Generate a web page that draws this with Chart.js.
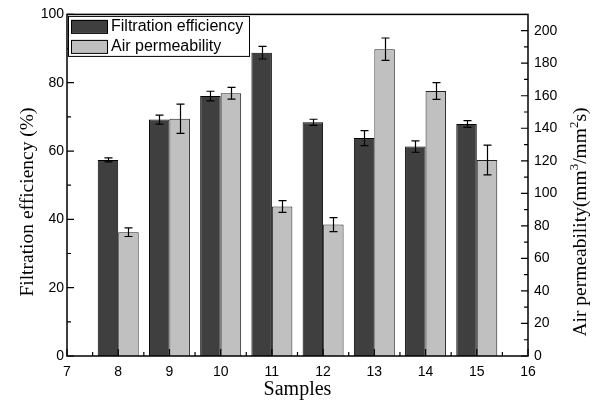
<!DOCTYPE html>
<html>
<head>
<meta charset="utf-8">
<script src="https://cdn.jsdelivr.net/npm/chart.js@4.4.1/dist/chart.umd.min.js"></script>
<style>
    html, body { margin: 0; padding: 0; background: #fff; }
    #chart { display: block; }
</style>
</head>
<body>
<canvas id="chart" width="596" height="401"></canvas>
<script>
// sample numbers and measured values (mean and +/- error)
const samples = [8, 9, 10, 11, 12, 13, 14, 15];
const efficiency = [57.4, 69.2, 76.1, 88.8, 68.4, 63.8, 61.3, 67.9];
const efficiencyErr = [0.6, 1.3, 1.4, 1.85, 0.9, 2.2, 1.65, 1.0];
const permeability = [76.1, 145.9, 161.5, 91.9, 80.8, 188.6, 162.9, 120.5];
const permeabilityErr = [2.65, 9.0, 3.6, 3.6, 4.3, 6.9, 5.1, 9.1];

const sampleTicks = [7, 8, 9, 10, 11, 12, 13, 14, 15, 16];
const efficiencyTicks = [0, 20, 40, 60, 80, 100];
const permeabilityTicks = [0, 20, 40, 60, 80, 100, 120, 140, 160, 180, 200];

const SANS = '"Liberation Sans", Arial, sans-serif';
const SERIF = '"Liberation Serif", "Times New Roman", serif';

function setTicks(values) {
    return scale => { scale.ticks = values.map(v => ({ value: v })); };
}

// vertical error bars with caps, drawn on top of each bar
const errorBars = {
    id: 'errorBars',
    afterDatasetsDraw(chart) {
        const ctx = chart.ctx;
        ctx.save();
        ctx.strokeStyle = '#000';
        ctx.lineWidth = 1.2;
        chart.data.datasets.forEach((ds, di) => {
            const meta = chart.getDatasetMeta(di);
            const scale = chart.scales[ds.yAxisID];
            meta.data.forEach((bar, i) => {
                const v = ds.data[i].y;
                const e = ds.errors[i];
                const yTop = scale.getPixelForValue(v + e);
                const yBot = scale.getPixelForValue(v - e);
                const x = Math.round(bar.x) + 0.5;
                ctx.beginPath();
                ctx.moveTo(x, yTop);
                ctx.lineTo(x, yBot);
                ctx.moveTo(x - 4, yTop);
                ctx.lineTo(x + 4, yTop);
                ctx.moveTo(x - 4, yBot);
                ctx.lineTo(x + 4, yBot);
                ctx.stroke();
            });
        });
        ctx.restore();
    }
};

// box around the plot with inward major/minor ticks, titles and legend
const frame = {
    id: 'frame',
    afterDraw(chart) {
        const ctx = chart.ctx;
        const area = chart.chartArea;
        const xs = chart.scales.x, yl = chart.scales.y, yr = chart.scales.y2;
        ctx.save();
        ctx.strokeStyle = '#000';
        ctx.lineWidth = 1.5;
        ctx.strokeRect(area.left, area.top, area.right - area.left, area.bottom - area.top);

        ctx.lineWidth = 1.2;
        ctx.beginPath();
        sampleTicks.forEach(v => {
            const px = xs.getPixelForValue(v);
            ctx.moveTo(px, area.bottom);
            ctx.lineTo(px, area.bottom - 7);
            if (v < 16) {
                const mx = xs.getPixelForValue(v + 0.5);
                ctx.moveTo(mx, area.bottom);
                ctx.lineTo(mx, area.bottom - 4);
            }
        });
        efficiencyTicks.forEach(v => {
            const py = yl.getPixelForValue(v);
            ctx.moveTo(area.left, py);
            ctx.lineTo(area.left + 7, py);
            if (v < 100) {
                const my = yl.getPixelForValue(v + 10);
                ctx.moveTo(area.left, my);
                ctx.lineTo(area.left + 4, my);
            }
        });
        permeabilityTicks.forEach(v => {
            const py = yr.getPixelForValue(v);
            ctx.moveTo(area.right, py);
            ctx.lineTo(area.right - 7, py);
            if (v < 200) {
                const my = yr.getPixelForValue(v + 10);
                ctx.moveTo(area.right, my);
                ctx.lineTo(area.right - 4, my);
            }
        });
        ctx.stroke();

        // axis titles
        ctx.fillStyle = '#000';
        ctx.font = '20px ' + SERIF;
        ctx.textAlign = 'center';
        ctx.textBaseline = 'alphabetic';
        ctx.fillText('Samples', (area.left + area.right) / 2, 395);

        ctx.font = '19.5px ' + SERIF;
        ctx.save();
        ctx.translate(33, 202);
        ctx.rotate(-Math.PI / 2);
        ctx.fillText('Filtration efficiency (%)', 0, 0);
        ctx.restore();

        const parts = [
            { text: 'Air permeability(mm' },
            { text: '3', sup: true },
            { text: '/mm' },
            { text: '2', sup: true },
            { text: 's)' }
        ];
        const mainFont = '19.5px ' + SERIF, supFont = '13px ' + SERIF;
        let total = 0;
        parts.forEach(p => {
            ctx.font = p.sup ? supFont : mainFont;
            p.w = ctx.measureText(p.text).width;
            total += p.w;
        });
        ctx.save();
        ctx.translate(586, 222);
        ctx.rotate(-Math.PI / 2);
        ctx.textAlign = 'left';
        let tx = -total / 2;
        parts.forEach(p => {
            ctx.font = p.sup ? supFont : mainFont;
            ctx.fillText(p.text, tx, p.sup ? -8 : 0);
            tx += p.w;
        });
        ctx.restore();

        // legend
        const lx = area.left + 1, ly = area.top + 1.5;
        ctx.fillStyle = '#fff';
        ctx.fillRect(lx, ly, 181, 40);
        ctx.lineWidth = 1;
        ctx.strokeStyle = '#000';
        ctx.strokeRect(lx + 0.5, ly + 0.5, 181, 40);
        ctx.font = '16px ' + SANS;
        ctx.textAlign = 'left';
        ctx.textBaseline = 'middle';
        chart.data.datasets.forEach((ds, i) => {
            const rowY = ly + 4 + i * 20;
            ctx.fillStyle = ds.backgroundColor;
            ctx.fillRect(lx + 3, rowY, 36, 13);
            ctx.strokeStyle = '#000';
            ctx.strokeRect(lx + 3.5, rowY + 0.5, 36, 13);
            ctx.fillStyle = '#000';
            ctx.fillText(ds.label, lx + 43, rowY + 7);
        });
        ctx.restore();
    }
};

const tickFont = { family: SANS, size: 14 };

new Chart(document.getElementById('chart'), {
    type: 'bar',
    data: {
        datasets: [{
            label: 'Filtration efficiency',
            data: samples.map((x, i) => ({ x: x, y: efficiency[i] })),
            errors: efficiencyErr,
            yAxisID: 'y',
            backgroundColor: '#3f3f3f',
            borderColor: '#000',
            borderWidth: 1,
            categoryPercentage: 0.8,
            barPercentage: 1
        }, {
            label: 'Air permeability',
            data: samples.map((x, i) => ({ x: x, y: permeability[i] })),
            errors: permeabilityErr,
            yAxisID: 'y2',
            backgroundColor: '#c0c0c0',
            borderColor: '#222',
            borderWidth: 1,
            categoryPercentage: 0.8,
            barPercentage: 1
        }]
    },
    options: {
        responsive: false,
        animation: false,
        devicePixelRatio: 1,
        layout: { padding: { top: 13, left: 0, right: 0, bottom: 0 } },
        plugins: {
            legend: { display: false },
            tooltip: { enabled: false }
        },
        scales: {
            x: {
                type: 'linear',
                min: 7,
                max: 16,
                offset: false,
                grid: { display: false, drawTicks: false },
                border: { display: false },
                ticks: { font: tickFont, color: '#000', padding: 8, autoSkip: false, maxRotation: 0 },
                afterBuildTicks: setTicks(sampleTicks),
                afterFit: s => { s.height = 45; }
            },
            y: {
                position: 'left',
                min: 0,
                max: 100,
                grid: { display: false, drawTicks: false },
                border: { display: false },
                ticks: { font: tickFont, color: '#000', padding: 3 },
                afterBuildTicks: setTicks(efficiencyTicks),
                afterFit: s => { s.width = 67; }
            },
            y2: {
                position: 'right',
                min: 0,
                max: 210,
                grid: { display: false, drawTicks: false },
                border: { display: false },
                ticks: { font: tickFont, color: '#000', padding: 6 },
                afterBuildTicks: setTicks(permeabilityTicks),
                afterFit: s => { s.width = 68; }
            }
        }
    },
    plugins: [errorBars, frame]
});
</script>
</body>
</html>
